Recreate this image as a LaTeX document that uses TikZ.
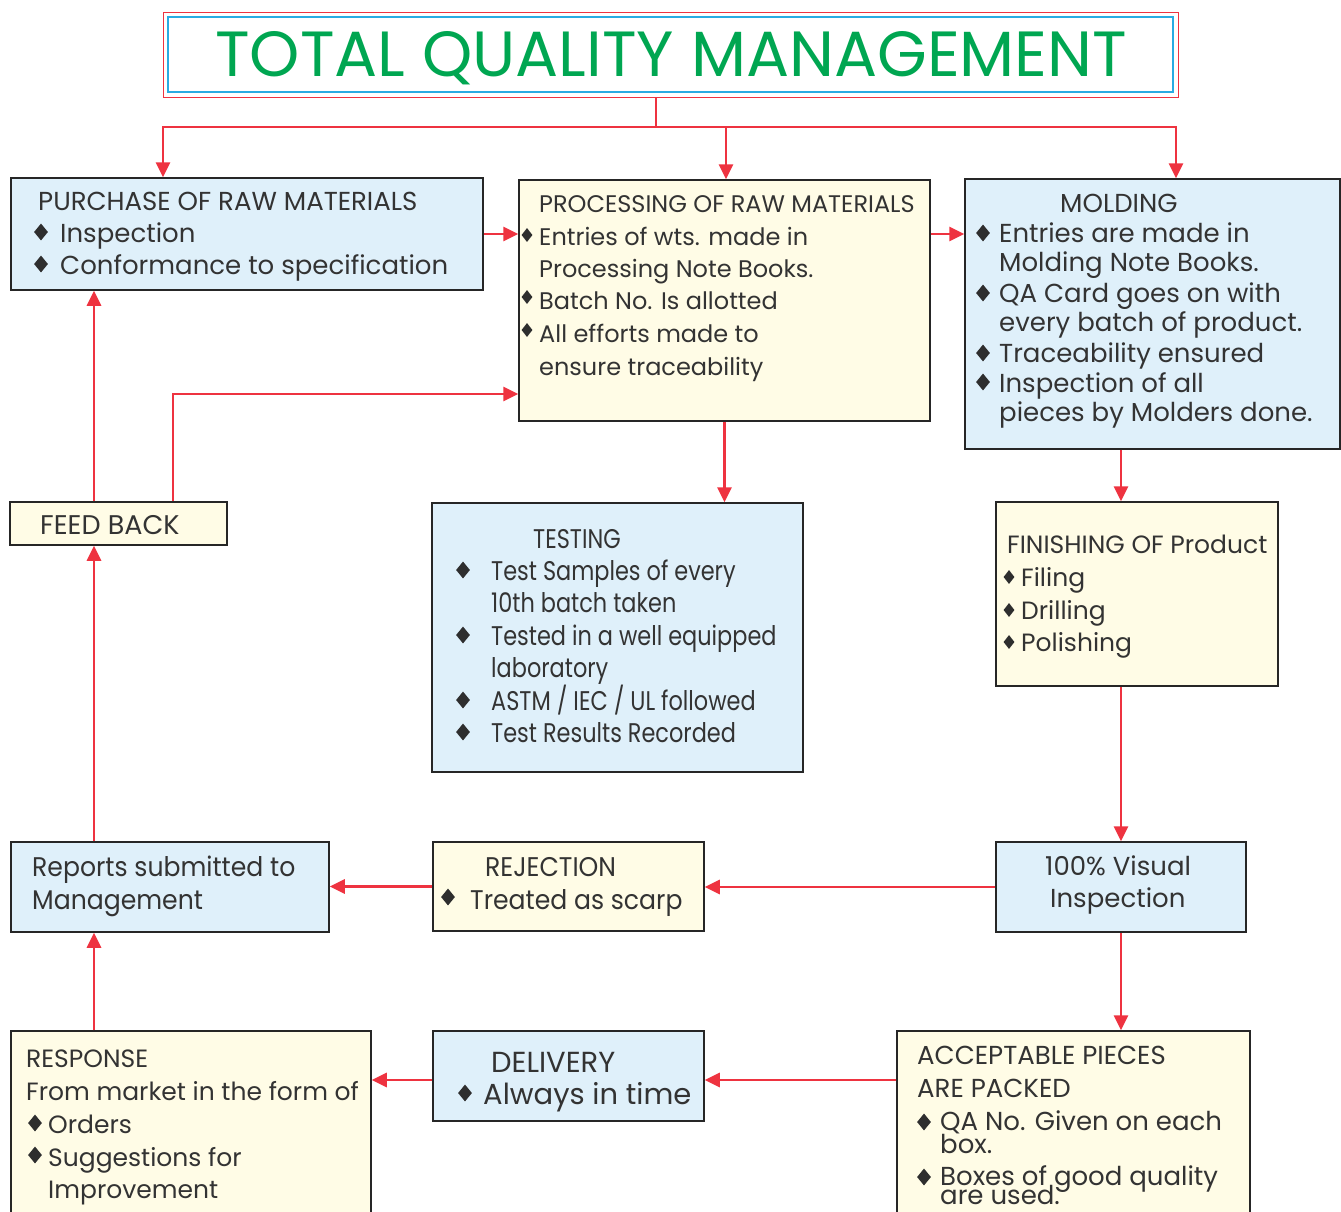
\documentclass[tikz,border=0pt]{standalone}
\usepackage{fontspec}
\setmainfont{Poppins}
\newfontfamily\condf[FakeStretch=0.83]{Poppins}
\newfontfamily\semif[FakeStretch=0.93]{Poppins}
\usetikzlibrary{arrows.meta,fit,shapes.geometric}
\definecolor{tred}{HTML}{EE3340}
\definecolor{tblue}{HTML}{29ABE2}
\definecolor{tgreen}{HTML}{00A651}
\definecolor{bfill}{HTML}{DFF0FA}
\definecolor{cfill}{HTML}{FFFCE6}
\definecolor{tgray}{HTML}{333333}
\newcounter{ln}
\newcommand\tl[4][]{\stepcounter{ln}\node[txt,#1] (t\theln) at (#2,#3) {#4};}
\newcommand\dm[3][]{\stepcounter{ln}\node[dmd,#1] (d\theln) at (#2,#3) {};}
\newcommand\fs[1]{\fontsize{#1}{#1}\selectfont}
\begin{document}
\begin{tikzpicture}[x=1pt,y=-1pt,
  box/.style={draw=black!85, line width=1.5pt, inner sep=0pt},
  bbox/.style={box, fill=bfill},
  cbox/.style={box, fill=cfill},
  txt/.style={anchor=base west, inner sep=0pt, text=tgray, font=\fs{26}},
  f24/.style={font=\fs{24}},
  f25/.style={font=\fs{25}},
  f27/.style={font=\fs{27}},
  f29/.style={font=\fs{29}},
  ctxt/.style={font=\condf\fs{27}},
  stxt/.style={font=\semif\fs{27}},
  dmd/.style={diamond, fill=tgray!90!black, inner sep=0pt, minimum width=14pt, minimum height=17pt},
  sdmd/.style={minimum width=11pt, minimum height=14pt},
  line/.style={draw=tred, line width=2.8pt},
  arr/.style={line, -{Triangle[length=15pt,width=14pt]}}]
\useasboundingbox (0,0) rectangle (1341,1211);
% title
\node[draw=tred, line width=1pt, inner sep=0pt, fit={(163,12) (1178,97)}] (titleO) {};
\node[draw=tblue, line width=2.5pt, inner sep=0pt, fit={(168,17) (1173,92)}] (titleI) {};
\node[anchor=base west, inner sep=0pt, text=tgreen] (tt) at (215,76) {\resizebox{912pt}{45pt}{TOTAL QUALITY MANAGEMENT}};
% boxes
\node[bbox, fit={(11,178) (483,290)}] (pur) {};
\node[cbox, fit={(519,180) (930,421)}] (proc) {};
\node[bbox, fit={(965,179) (1340,449)}] (mold) {};
\node[bbox, fit={(432,503) (803,772)}] (test) {};
\node[cbox, fit={(996,502) (1278,686)}] (fin) {};
\node[cbox, fit={(10,502) (227,545)}] (fb) {};
\node[bbox, fit={(996,842) (1246,932)}] (vis) {};
\node[cbox, fit={(433,842) (704,931)}] (rej) {};
\node[bbox, fit={(11,842) (329,932)}] (rep) {};
\node[cbox, fit={(897,1031) (1250,1216)}] (acc) {};
\node[bbox, fit={(433,1031) (704,1121)}] (del) {};
\node[cbox, fit={(11,1031) (371,1216)}] (resp) {};
% purchase
\tl{38}{210}{PURCHASE OF RAW MATERIALS}
\dm{41}{232}\tl{60}{242}{Inspection}
\dm{41}{264}\tl{60}{274}{Conformance to specification}
% processing
\tl[f24]{539}{212}{PROCESSING OF RAW MATERIALS}
\dm[sdmd]{527}{235}\tl[f24]{539}{245}{Entries of wts. made in}
\tl[f24]{539}{277}{Processing Note Books.}
\dm[sdmd]{527}{297}\tl[f24]{539}{309}{Batch No. Is allotted}
\dm[sdmd]{527}{330}\tl[f24]{539}{342}{All efforts made to}
\tl[f24]{539}{375}{ensure traceability}
% molding
\tl{1060}{212}{MOLDING}
\dm{983}{233}\tl{999}{242}{Entries are made in}
\tl{999}{271}{Molding Note Books.}
\dm{983}{293}\tl{999}{302}{QA Card goes on with}
\tl{999}{331}{every batch of product.}
\dm{983}{353}\tl{999}{362}{Traceability ensured}
\dm{983}{382}\tl{999}{392}{Inspection of all}
\tl{999}{421}{pieces by Molders done.}
% testing
\tl[ctxt]{533}{548}{TESTING}
\dm{463}{570}\tl[ctxt]{491}{580}{Test Samples of every}
\tl[ctxt]{491}{612}{10th batch taken}
\dm{463}{635}\tl[ctxt]{491}{645}{Tested in a well equipped}
\tl[ctxt]{491}{677}{laboratory}
\dm{463}{700}\tl[ctxt]{491}{710}{ASTM / IEC / UL followed}
\dm{463}{732}\tl[ctxt]{491}{742}{Test Results Recorded}
% finishing
\tl[f25]{1007}{553}{FINISHING OF Product}
\dm[sdmd]{1009}{577}\tl[f25]{1021}{586}{Filing}
\dm[sdmd]{1009}{610}\tl[f25]{1021}{619}{Drilling}
\dm[sdmd]{1009}{642}\tl[f25]{1021}{651}{Polishing}
% feedback
\tl[f27]{40}{534}{FEED BACK}
% visual
\tl{1045}{875}{100\% Visual}
\tl{1050}{907}{Inspection}
% rejection
\tl[stxt]{485}{876}{REJECTION}
\dm{448}{897}\tl[stxt]{470}{909}{Treated as scarp}
% reports
\tl[stxt]{32}{876}{Reports submitted to}
\tl[stxt]{32}{909}{Management}
% delivery
\tl[f29]{491}{1072}{DELIVERY}
\dm{465}{1093}\tl[f29]{483}{1104}{Always in time}
% response
\tl[f25]{26}{1067}{RESPONSE}
\tl[f25]{26}{1100}{From market in the form of}
\dm{35}{1123}\tl[f25]{48}{1133}{Orders}
\dm{35}{1155}\tl[f25]{48}{1166}{Suggestions for}
\tl[f25]{48}{1198}{Improvement}
% acceptable
\tl{917}{1064}{ACCEPTABLE PIECES}
\tl{917}{1097}{ARE PACKED}
\dm{924}{1122}\tl{940}{1130}{QA No. Given on each}
\tl{940}{1153}{box.}
\dm{924}{1177}\tl{940}{1185}{Boxes of good quality}
\tl{940}{1204}{are used.}
% connectors
\coordinate (tj) at (656,127);
\coordinate (jL) at (163,127);
\coordinate (jM) at (726,127);
\coordinate (jR) at (1176,127);
\coordinate (xr) at (1121,0);
\coordinate (xl) at (94,0);
\coordinate (xf) at (173,394);
\coordinate (yb) at (0,1080);
\draw[line] (titleO.south -| tj) -- (tj);
\draw[line, line cap=rect] (jL) -- (jR);
\draw[arr] (jL) -- (pur.north -| jL);
\draw[arr] (jM) -- (proc.north -| jM);
\draw[arr] (jR) -- (mold.north -| jR);
\draw[arr] (pur.east) -- (pur.east -| proc.west);
\draw[arr] (proc.east |- pur.east) -- (mold.west |- pur.east);
\draw[arr] (proc.south) -- (proc.south |- test.north);
\draw[arr] (mold.south -| xr) -- (fin.north -| xr);
\draw[arr] (fin.south -| xr) -- (vis.north -| xr);
\draw[arr] (vis.south -| xr) -- (acc.north -| xr);
\draw[arr] (vis.west) -- (vis.west -| rej.east);
\draw[arr] (rej.west) -- (rej.west -| rep.east);
\draw[arr] (rep.north -| xl) -- (fb.south -| xl);
\draw[arr] (fb.north -| xl) -- (pur.south -| xl);
\draw[arr] (fb.north -| xf) |- (proc.west |- xf);
\draw[arr] (acc.west |- yb) -- (del.east |- yb);
\draw[arr] (del.west |- yb) -- (resp.east |- yb);
\draw[arr] (resp.north -| xl) -- (rep.south -| xl);
\end{tikzpicture}
\end{document}
